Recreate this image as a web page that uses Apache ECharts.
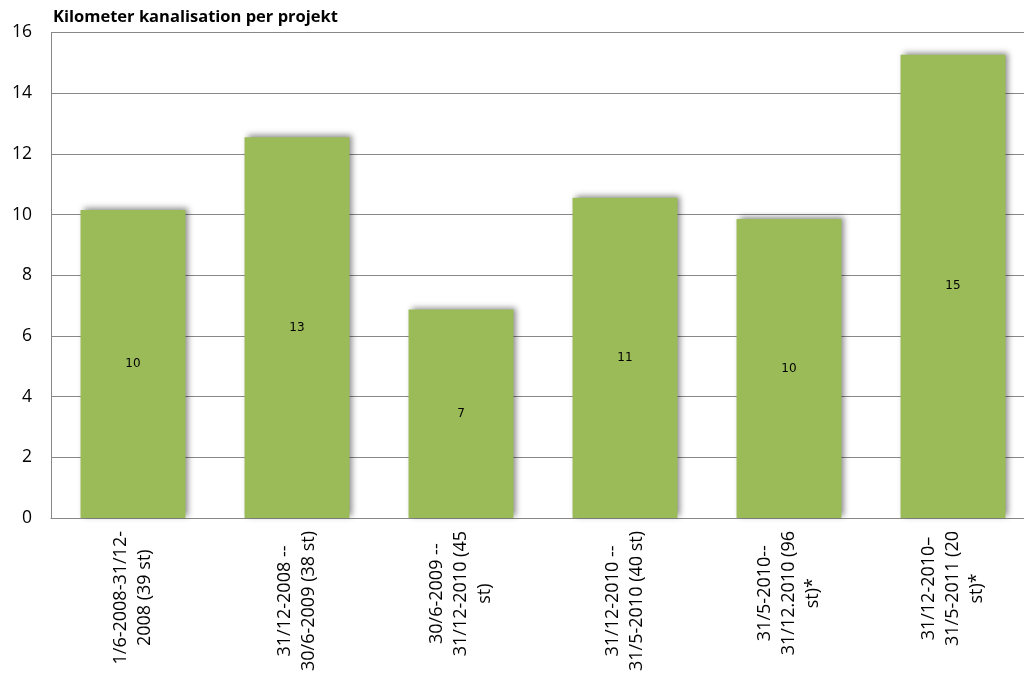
<!DOCTYPE html>
<html>
<head>
<meta charset="utf-8">
<script src="https://cdn.jsdelivr.net/npm/echarts@6/dist/echarts.min.js"></script>
<style>
  html, body { margin: 0; padding: 0; background: #fff; overflow: hidden; }
  /* plot area runs slightly past the right edge of the window */
  #chart { width: 1040px; height: 674px; }
</style>
</head>
<body>
<div id="chart"></div>
<script>
// Project periods (x axis categories), with line breaks as they wrap under the axis
const categories = [
  '1/6-2008-31/12-\n2008 (39 st)',
  '31/12-2008 --\n30/6-2009 (38 st)',
  '30/6-2009 --\n31/12-2010 (45\nst)',
  '31/12-2010 --\n31/5-2010 (40 st)',
  '31/5-2010--\n31/12.2010 (96\nst)*',
  '31/12-2010\u2013\n31/5-2011 (20\nst)*'
];

// Kilometres of sewer laid per project
const kilometers = [10.15, 12.55, 6.87, 10.55, 9.85, 15.27];

// Y axis range and step
const yMin = 0;
const yMax = 16;
const yStep = 2;

const chartTitle = 'Kilometer kanalisation per projekt';

const gray = '#888888';
const labelFont = 'Open Sans';

const chart = echarts.init(document.getElementById('chart'), null, { renderer: 'canvas' });

chart.setOption({
  animation: false,
  backgroundColor: '#ffffff',
  title: {
    text: chartTitle,
    left: 48,
    top: 4,
    textStyle: {
      fontFamily: labelFont,
      fontWeight: 'bold',
      fontSize: 16.5,
      color: '#000'
    }
  },
  grid: {
    left: 51,
    top: 32.5,
    bottom: 156,
    right: 5
  },
  xAxis: {
    type: 'category',
    data: categories,
    axisTick: { show: false },
    axisLine: { lineStyle: { color: gray, width: 1 } },
    axisLabel: {
      interval: 0,
      rotate: 90,
      margin: 13,
      color: '#000',
      fontFamily: labelFont,
      fontSize: 18,
      lineHeight: 24,
      formatter: function (v) {
        return v.split('\n').map(function (line) { return '{c|' + line + '}'; }).join('\n');
      },
      rich: {
        c: {
          align: 'center',
          fontFamily: labelFont,
          fontSize: 18,
          lineHeight: 24,
          color: '#000'
        }
      }
    }
  },
  yAxis: {
    type: 'value',
    min: yMin,
    max: yMax,
    interval: yStep,
    axisTick: { show: false },
    axisLine: { show: true, lineStyle: { color: gray, width: 1 } },
    splitLine: { show: true, lineStyle: { color: gray, width: 1 } },
    axisLabel: {
      margin: 19,
      color: '#000',
      fontFamily: labelFont,
      fontSize: 17.5
    }
  },
  series: [{
    type: 'bar',
    data: kilometers,
    barWidth: '64%',
    itemStyle: {
      color: '#9bbb59',
      shadowColor: 'rgba(0,0,0,0.45)',
      shadowBlur: 6,
      shadowOffsetX: 3,
      shadowOffsetY: -2
    },
    label: {
      show: true,
      position: 'inside',
      color: '#000',
      fontFamily: 'DejaVu Sans',
      fontSize: 12,
      formatter: function (p) { return String(Math.round(p.value)); }
    }
  }]
});
</script>
</body>
</html>
